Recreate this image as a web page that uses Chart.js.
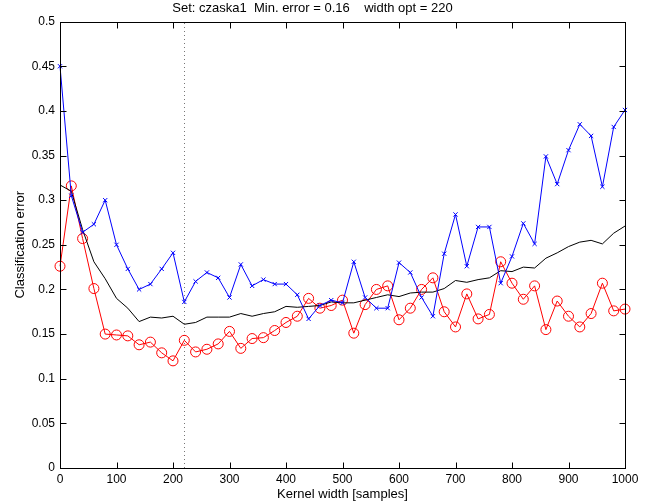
<!DOCTYPE html>
<html>
<head>
<meta charset="utf-8">
<script src="https://cdn.jsdelivr.net/npm/chart.js@4/dist/chart.umd.min.js"></script>
<style>
html,body{margin:0;padding:0;background:#fff;}
#wrap{width:664px;height:504px;position:relative;}
</style>
</head>
<body>
<div id="wrap"><canvas id="c" width="664" height="504"></canvas></div>
<script>
const kernelWidths = [0,20,40,60,80,100,120,140,160,180,200,220,240,260,280,300,320,340,360,380,400,420,440,460,480,500,520,540,560,580,600,620,640,660,680,700,720,740,760,780,800,820,840,860,880,900,920,940,960,980,1000];
const errBlue = [0.450,0.305,0.264,0.273,0.300,0.250,0.223,0.200,0.206,0.223,0.241,0.186,0.209,0.219,0.213,0.191,0.228,0.204,0.211,0.206,0.206,0.194,0.167,0.182,0.188,0.185,0.231,0.191,0.179,0.179,0.230,0.219,0.191,0.170,0.240,0.284,0.226,0.270,0.270,0.207,0.237,0.274,0.251,0.349,0.318,0.356,0.385,0.372,0.315,0.382,0.401];
const errRed = [0.226,0.316,0.257,0.201,0.150,0.149,0.148,0.138,0.141,0.129,0.120,0.143,0.130,0.133,0.139,0.153,0.134,0.145,0.146,0.154,0.163,0.170,0.190,0.179,0.182,0.188,0.151,0.183,0.200,0.204,0.166,0.179,0.200,0.213,0.175,0.158,0.195,0.167,0.172,0.231,0.207,0.189,0.204,0.155,0.187,0.170,0.158,0.173,0.207,0.176,0.178];
const errMean = [0.317,0.310,0.267,0.231,0.212,0.190,0.179,0.164,0.169,0.168,0.170,0.161,0.163,0.169,0.169,0.169,0.173,0.170,0.173,0.175,0.181,0.180,0.181,0.182,0.186,0.185,0.185,0.188,0.191,0.194,0.192,0.196,0.197,0.197,0.201,0.210,0.208,0.211,0.213,0.221,0.220,0.225,0.224,0.235,0.241,0.248,0.253,0.255,0.251,0.263,0.271];
const optWidth = 220;
const xTicks = [0,100,200,300,400,500,600,700,800,900,1000];
const yTicks = [0,0.05,0.1,0.15,0.2,0.25,0.3,0.35,0.4,0.45,0.5];
const titleText = 'Set: czaska1  Min. error = 0.16    width opt = 220';

const pts = arr => kernelWidths.map((x,i)=>({x:x,y:arr[i]}));
const FONT = 'Arial, "Liberation Sans", Helvetica, sans-serif';

const framePlugin = {
  id:'frame',
  beforeDatasetsDraw(chart){
    const ctx = chart.ctx, a = chart.chartArea, sx = chart.scales.x;
    ctx.save();
    const ox = Math.round(sx.getPixelForValue(optWidth)) + 0.5;
    ctx.strokeStyle = '#777';
    ctx.lineWidth = 1;
    ctx.setLineDash([1,3]);
    ctx.beginPath(); ctx.moveTo(ox, a.bottom); ctx.lineTo(ox, a.top); ctx.stroke();
    ctx.restore();
  },
  afterDatasetsDraw(chart){
    const ctx = chart.ctx, a = chart.chartArea, sx = chart.scales.x, sy = chart.scales.y;
    ctx.save();
    ctx.strokeStyle = '#000';
    ctx.lineWidth = 1;
    const L = Math.round(a.left)+0.5, R = Math.round(a.right)+0.5, T = Math.round(a.top)+0.5, B = Math.round(a.bottom)+0.5;
    ctx.strokeRect(L, T, R-L, B-T);
    const tl = 6;
    ctx.beginPath();
    xTicks.forEach(v=>{
      const p = Math.round(sx.getPixelForValue(v))+0.5;
      ctx.moveTo(p,B); ctx.lineTo(p,B-tl);
      ctx.moveTo(p,T); ctx.lineTo(p,T+tl);
    });
    yTicks.forEach(v=>{
      const p = Math.round(sy.getPixelForValue(v))+0.5;
      ctx.moveTo(L,p); ctx.lineTo(L+tl,p);
      ctx.moveTo(R,p); ctx.lineTo(R-tl,p);
    });
    ctx.stroke();
    ctx.restore();
  }
};

new Chart(document.getElementById('c'), {
  type:'line',
  data:{
    datasets:[
      {data:pts(errBlue), clip:false, borderColor:'#0000ff', backgroundColor:'#0000ff', borderWidth:1, pointStyle:'crossRot', pointRadius:3, pointBorderWidth:1, tension:0, fill:false},
      {data:pts(errMean), clip:false, borderColor:'#000000', borderWidth:1, pointRadius:0, tension:0, fill:false},
      {data:pts(errRed), clip:false, borderColor:'#ff0000', backgroundColor:'rgba(0,0,0,0)', borderWidth:1, pointStyle:'circle', pointRadius:5, pointBorderWidth:1, tension:0, fill:false}
    ]
  },
  options:{
    responsive:false,
    animation:false,
    layout:{padding:{left:0,right:39,top:0,bottom:0}},
    plugins:{
      legend:{display:false},
      tooltip:{enabled:false},
      title:{display:true, text:titleText, color:'#000', font:{family:FONT, size:13, weight:'normal', lineHeight:1.2}, padding:{top:1,bottom:5}}
    },
    scales:{
      x:{
        type:'linear', min:0, max:1000,
        afterFit(s){ s.height = 36; },
        afterBuildTicks(s){ s.ticks = xTicks.map(v=>({value:v})); },
        grid:{display:false, drawTicks:false},
        border:{display:false},
        ticks:{color:'#000', font:{family:FONT,size:12}, padding:4, maxRotation:0, autoSkip:false, callback:v=>String(v)},
        title:{display:true, text:'Kernel width [samples]', color:'#000', font:{family:FONT,size:13}, padding:{top:0,bottom:2}}
      },
      y:{
        type:'linear', min:0, max:0.5,
        afterFit(s){ s.width = 60; },
        afterBuildTicks(s){ s.ticks = yTicks.map(v=>({value:v})); },
        grid:{display:false, drawTicks:false},
        border:{display:false},
        ticks:{color:'#000', font:{family:FONT,size:12}, padding:5, autoSkip:false, callback:v=>String(Math.round(v*100)/100)},
        title:{display:true, text:'Classification error', color:'#000', font:{family:FONT,size:13}, padding:{top:13,bottom:0}}
      }
    }
  },
  plugins:[framePlugin]
});
</script>
</body>
</html>
